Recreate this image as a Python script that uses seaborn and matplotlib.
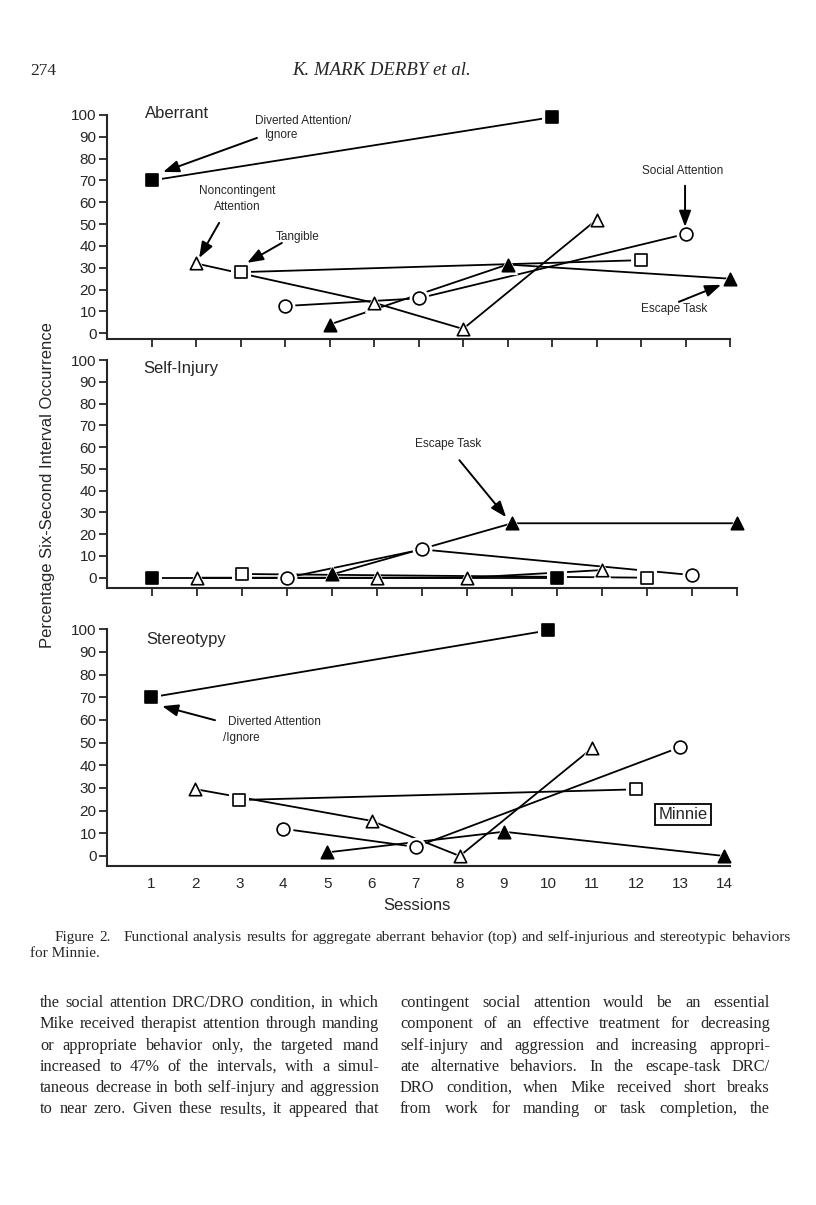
import matplotlib
matplotlib.use('Agg')

import matplotlib.pyplot as plt
import seaborn as sns

# sessions of each condition (same in the three panels)
diverted_sessions = [1, 10]
noncontingent_sessions = [2, 6, 8, 11]
tangible_sessions = [3, 12]
social_sessions = [4, 7, 13]
escape_sessions = [5, 9, 14]

# percentage of intervals
aberrant_diverted = [70, 99]
aberrant_noncontingent = [32, 14, 2, 52]
aberrant_tangible = [28, 33.5]
aberrant_social = [12.5, 16, 45.5]
aberrant_escape = [4, 31.5, 25]

selfinjury_diverted = [0, 0]
selfinjury_noncontingent = [0, 0, 0, 3.5]
selfinjury_tangible = [1.7, 0]
selfinjury_social = [0, 13, 1.2]
selfinjury_escape = [1.5, 25, 25]

stereotypy_diverted = [70, 99.5]
stereotypy_noncontingent = [29.5, 15.5, 0, 47.5]
stereotypy_tangible = [24.7, 29.4]
stereotypy_social = [12, 4, 48]
stereotypy_escape = [1.6, 10.7, 0]

session_ticks = list(range(1, 15))
pct_ticks = list(range(0, 101, 10))
panel_titles = ['Aberrant', 'Self-Injury', 'Stereotypy']

header_page = '274'
header_title = 'K. MARK DERBY et al.'
caption_lines = [
    'Figure 2.   Functional analysis results for aggregate aberrant behavior (top) and self-injurious and stereotypic behaviors',
    'for Minnie.',
]
left_col = [
    'the social attention DRC/DRO condition, in which',
    'Mike received therapist attention through manding',
    'or appropriate behavior only, the targeted mand',
    'increased to 47% of the intervals, with a simul-',
    'taneous decrease in both self-injury and aggression',
    'to near zero. Given these results, it appeared that',
]
right_col = [
    'contingent social attention would be an essential',
    'component of an effective treatment for decreasing',
    'self-injury and aggression and increasing appropri-',
    'ate alternative behaviors. In the escape-task DRC/',
    'DRO condition, when Mike received short breaks',
    'from work for manding or task completion, the',
]

sns.set_style('ticks')
plt.rcParams['font.family'] = ['Liberation Sans', 'DejaVu Sans']
SERIF = ['Liberation Serif', 'DejaVu Serif']

W, H = 816, 1205
fig = plt.figure(figsize=(W / 100, H / 100), dpi=100)


def fx(px):
    return px / W


def fy(py):
    return 1 - py / H


# marker styles: (marker, face colour, size)
styles = [('s', 'black', 80), ('^', 'white', 80), ('s', 'white', 80),
          ('o', 'white', 85), ('^', 'black', 80)]
sessions = [diverted_sessions, noncontingent_sessions, tangible_sessions,
            social_sessions, escape_sessions]
panels = [
    [aberrant_diverted, aberrant_noncontingent, aberrant_tangible, aberrant_social, aberrant_escape],
    [selfinjury_diverted, selfinjury_noncontingent, selfinjury_tangible, selfinjury_social, selfinjury_escape],
    [stereotypy_diverted, stereotypy_noncontingent, stereotypy_tangible, stereotypy_social, stereotypy_escape],
]
# axes geometry in page pixels: left, top(=100%), bottom spine, right, ymin, xmax
geom = [(107, 115, 339.3, 730, -2.75, 14.0),
        (107, 360, 588.3, 737, -4.87, 14.0),
        (107, 629.3, 865.7, 730, -4.28, 14.13)]
title_pos = [(0.85, 100.5), (0.8, 96), (0.88, 95.7)]

axes = []
for i, (vals, (l, t, b, r, ymin, xmax)) in enumerate(zip(panels, geom)):
    ax = fig.add_axes([fx(l), fy(b), (r - l) / W, (b - t) / H])
    for sess, v in zip(sessions, vals):
        sns.lineplot(x=sess, y=v, ax=ax, color='black', linewidth=1.3, legend=False, zorder=2)
    for sess, v, (m, fc, s) in zip(sessions, vals, styles):
        sns.scatterplot(x=sess, y=v, ax=ax, marker=m, s=s * 2.4, color='white',
                        edgecolor='white', linewidth=0, legend=False, zorder=3, clip_on=False)
    for sess, v, (m, fc, s) in zip(sessions, vals, styles):
        sns.scatterplot(x=sess, y=v, ax=ax, marker=m, s=s, color=fc,
                        edgecolor='black', linewidth=1.2, legend=False, zorder=4, clip_on=False)
    ax.set_xlim(0, xmax)
    ax.set_ylim(ymin, 100)
    ax.set_yticks(pct_ticks)
    ax.set_yticklabels([str(p) for p in pct_ticks], fontsize=11)
    ax.set_xticks(session_ticks)
    ax.set_xlabel('')
    ax.set_ylabel('')
    for side in ['top', 'right']:
        ax.spines[side].set_visible(False)
    for side in ['left', 'bottom']:
        ax.spines[side].set_linewidth(1.5)
        ax.spines[side].set_zorder(6)
    ax.tick_params(axis='y', direction='out', length=6, width=1.3, pad=1.5)
    if i < 2:
        ax.tick_params(axis='x', direction='out', length=6, width=1.3, labelbottom=False)
    else:
        ax.set_xticklabels([str(s) for s in session_ticks], fontsize=11)
        ax.tick_params(axis='x', length=0, pad=8)
    tx, ty = title_pos[i]
    ax.text(tx, ty, panel_titles[i], fontsize=12, va='center', ha='left')
    ax.grid(False)
    axes.append(ax)

arrow = dict(arrowstyle='-|>,head_length=0.8,head_width=0.3', color='black', lw=1.4,
             shrinkA=0, shrinkB=0, mutation_scale=12)
small = 8.5

ax1, ax2, ax3 = axes
# Aberrant annotations
ax1.text(3.33, 97.4, 'Diverted Attention/', fontsize=small, va='center')
ax1.text(3.55, 91, 'Ignore', fontsize=small, va='center')
ax1.annotate('', xy=(1.26, 73.9), xytext=(3.37, 89.5), arrowprops=arrow)
ax1.text(2.92, 65.3, 'Noncontingent', fontsize=small, va='center', ha='center')
ax1.text(2.92, 58, 'Attention', fontsize=small, va='center', ha='center')
ax1.annotate('', xy=(2.07, 34.5), xytext=(2.52, 50.6), arrowprops=arrow)
ax1.text(4.29, 44.2, 'Tangible', fontsize=small, va='center', ha='center')
ax1.annotate('', xy=(3.15, 32.3), xytext=(3.93, 41.4), arrowprops=arrow)
ax1.text(12.94, 74.4, 'Social Attention', fontsize=small, va='center', ha='center')
ax1.annotate('', xy=(12.99, 48.8), xytext=(12.99, 67.6), arrowprops=arrow)
ax1.text(12.74, 11.1, 'Escape Task', fontsize=small, va='center', ha='center')
ax1.annotate('', xy=(13.8, 22.2), xytext=(12.85, 14.4), arrowprops=arrow)

# Self-injury annotation
ax2.text(7.59, 61.3, 'Escape Task', fontsize=small, va='center', ha='center')
ax2.annotate('', xy=(8.87, 27.8), xytext=(7.83, 54), arrowprops=arrow)

# Stereotypy annotations
ax3.text(2.74, 59, 'Diverted Attention', fontsize=small, va='center')
ax3.text(2.63, 52, '/Ignore', fontsize=small, va='center')
ax3.annotate('', xy=(1.25, 66.1), xytext=(2.45, 59.9), arrowprops=arrow)
ax3.text(13.07, 18.3, 'Minnie', fontsize=12, va='center', ha='center',
         bbox=dict(boxstyle='square,pad=0.2', fc='white', ec='black', lw=1.3))

fig.text(fx(48), fy(485), 'Percentage Six-Second Interval Occurrence', rotation=90,
         fontsize=12, ha='center', va='center')
fig.text(fx(417), fy(905), 'Sessions', fontsize=12, ha='center', va='center')

# page text
fig.text(fx(30), fy(75), header_page, family=SERIF, fontsize=12.5, va='baseline')
fig.text(fx(292), fy(75), header_title, family=SERIF, style='italic', fontsize=13.5, va='baseline')

renderer = fig.canvas.get_renderer()


def natural_width(line, size):
    t = fig.text(0, 0, line, family=SERIF, fontsize=size)
    w = t.get_window_extent(renderer).width
    t.remove()
    return w


def fit_size(lines, target):
    widest = max(natural_width(s, 10) for s in lines)
    return 10 * target / widest


def justified(line, x0, x1, base, size):
    words = line.split(' ')
    arts = [fig.text(0, fy(base), w, family=SERIF, fontsize=size, va='baseline') for w in words]
    widths = [a.get_window_extent(renderer).width for a in arts]
    gap = (x1 - x0 - sum(widths)) / max(len(words) - 1, 1)
    x = x0
    for a, w in zip(arts, widths):
        a.set_x(fx(x))
        x += w + gap


cap_size = fit_size(caption_lines[:1], 790 - 55) * 0.99
justified(caption_lines[0], 55, 790, 941, cap_size)
fig.text(fx(30), fy(957), caption_lines[1], family=SERIF, fontsize=cap_size, va='baseline')

left_size = fit_size(left_col, 379 - 40) * 0.985
right_size = fit_size(right_col, 770 - 400) * 0.985
body_size = min(left_size, right_size)
for k, (ll, rl) in enumerate(zip(left_col, right_col)):
    base = 1007 + 21.25 * k
    justified(ll, 40, 379, base, body_size)
    justified(rl, 400, 770, base, body_size)

fig.savefig('out.png', dpi=100)
